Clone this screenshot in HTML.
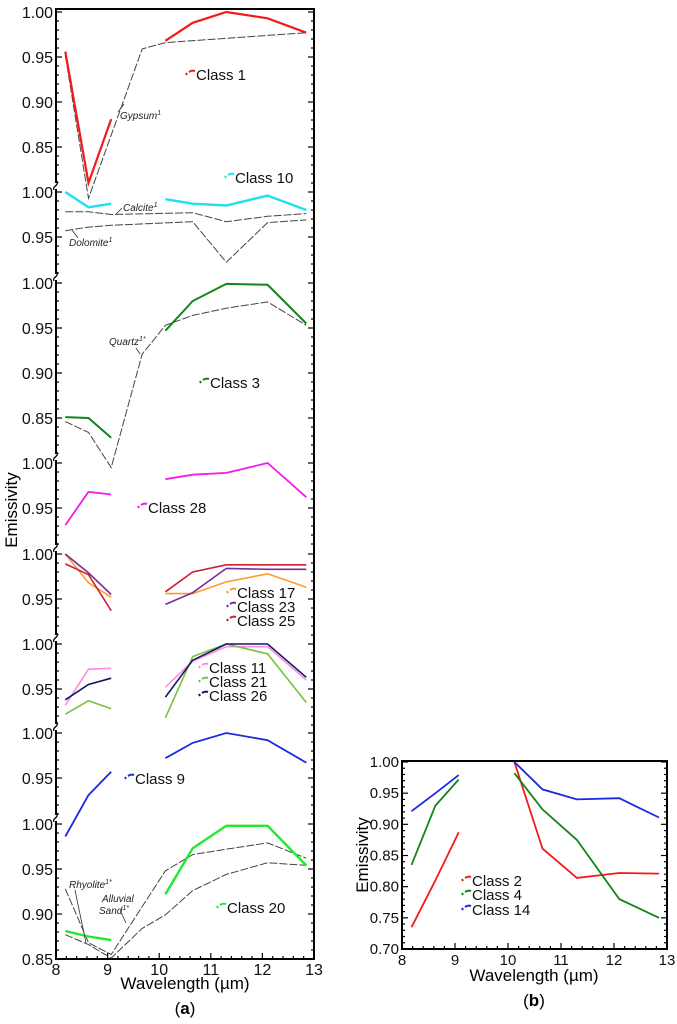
<!DOCTYPE html>
<html><head><meta charset="utf-8">
<style>
html,body{margin:0;padding:0;background:#fff;}
svg{display:block;font-family:"Liberation Sans",sans-serif;}
.tl{font-size:16px;fill:#111;}
.tlb{font-size:15px;fill:#111;}
.lg{font-size:15px;fill:#111;}
.mn{font-size:10px;font-style:italic;fill:#222;}
</style></head>
<body>
<svg id="chart" width="677" height="1024" viewBox="0 0 677 1024" xmlns="http://www.w3.org/2000/svg">
<g id="pa"></g>
<g id="pb"></g>
</svg>
<script>
const wl = [8.18, 8.63, 9.07, 10.12, 10.65, 11.3, 12.1, 12.85];
const xTicks = [8, 9, 10, 11, 12, 13];
const subTop = [12, 192, 283, 463, 554, 644, 733, 824];
const subTickLabels = [["1.00","0.95","0.90","0.85"],["1.00","0.95"],["1.00","0.95","0.90","0.85"],["1.00","0.95"],["1.00","0.95"],["1.00","0.95"],["1.00","0.95"],["1.00","0.95","0.90","0.85"]];
const subTickValues = [[1,0.95,0.9,0.85],[1,0.95],[1,0.95,0.9,0.85],[1,0.95],[1,0.95],[1,0.95],[1,0.95],[1,0.95,0.9,0.85]];
const class1 = [0.956, 0.81, 0.881, 0.968, 0.988, 1.0, 0.993, 0.977];
const class10 = [1.0, 0.983, 0.987, 0.992, 0.987, 0.985, 0.996, 0.98];
const class3 = [0.851, 0.85, 0.828, 0.947, 0.98, 0.999, 0.998, 0.955];
const class28 = [0.931, 0.968, 0.965, 0.982, 0.987, 0.989, 1.0, 0.962];
const class17 = [1.0, 0.968, 0.952, 0.956, 0.956, 0.969, 0.978, 0.963];
const class23 = [1.0, 0.979, 0.955, 0.944, 0.957, 0.984, 0.983, 0.983];
const class25 = [0.989, 0.977, 0.937, 0.958, 0.98, 0.988, 0.988, 0.988];
const class11 = [0.932, 0.972, 0.973, 0.952, 0.981, 0.997, 0.997, 0.96];
const class21 = [0.922, 0.937, 0.928, 0.918, 0.986, 1.0, 0.989, 0.935];
const class26 = [0.938, 0.955, 0.962, 0.941, 0.982, 1.0, 1.0, 0.963];
const class9 = [0.885, 0.931, 0.957, 0.972, 0.989, 1.0, 0.992, 0.967];
const class20 = [0.881, 0.875, 0.871, 0.922, 0.973, 0.998, 0.998, 0.954];
const gypsumX = [8.18, 8.63, 9.67, 10.12, 12.85];
const gypsumY = [0.952, 0.793, 0.959, 0.966, 0.977];
const calciteX = [8.18, 8.63, 9.07, 10.65, 11.3, 12.1, 12.85];
const calciteY = [0.978, 0.978, 0.975, 0.977, 0.967, 0.973, 0.976];
const dolomiteX = [8.18, 8.63, 9.07, 10.65, 11.3, 12.1, 12.85];
const dolomiteY = [0.957, 0.961, 0.963, 0.967, 0.922, 0.966, 0.969];
const quartzX = [8.18, 8.63, 9.07, 9.67, 10.12, 10.65, 11.3, 12.1, 12.85];
const quartzY = [0.846, 0.834, 0.795, 0.921, 0.953, 0.964, 0.972, 0.979, 0.953];
const rhyoliteX = [8.18, 8.63, 9.07, 10.12, 10.65, 11.3, 12.1, 12.85];
const rhyoliteY = [0.928, 0.868, 0.855, 0.948, 0.966, 0.972, 0.979, 0.962];
const sandX = [8.18, 8.63, 9.07, 9.67, 10.12, 10.65, 11.3, 12.1, 12.85];
const sandY = [0.877, 0.866, 0.851, 0.884, 0.899, 0.926, 0.944, 0.957, 0.954];
const bTicks = [1.0, 0.95, 0.9, 0.85, 0.8, 0.75, 0.7];
const bTickLabels = ["1.00","0.95","0.90","0.85","0.80","0.75","0.70"];
const class2 = [0.735, 0.81, 0.887, 1.0, 0.861, 0.814, 0.822, 0.821];
const class4 = [0.835, 0.93, 0.972, 0.982, 0.924, 0.875, 0.78, 0.75];
const class14 = [0.921, 0.95, 0.979, 1.0, 0.956, 0.94, 0.942, 0.911];

const NS = "http://www.w3.org/2000/svg";
function mk(tag, attrs, parent){const e=document.createElementNS(NS,tag);for(const k in attrs)e.setAttribute(k,attrs[k]);parent.appendChild(e);return e;}
const pa=document.getElementById('pa'), pb=document.getElementById('pb');

const aL=56,aR=314,aT=9,aB=959;
const ax = w => aL + (w-8)*(aR-aL)/5;
const ay = (p,v) => subTop[p] + (1-v)*900;
const bL=402,bR=667,bT=761,bB=949;
const bx = w => bL + (w-8)*(bR-bL)/5;
const by = v => bT + 1 + (1-v)*(bB-bT-1)/0.3;

function pts(xs, ys, fx, fy){return xs.map((x,i)=>fx(x).toFixed(1)+','+fy(ys[i]).toFixed(1)).join(' ');}

let e=mk('rect',{x:aL,y:aT,width:aR-aL,height:aB-aT,fill:'none',stroke:'#000','stroke-width':2},pa);


for(let p=0;p<subTop.length;p++){
  const bot = p<subTop.length-1 ? subTop[p+1] : aB;
  for(let y=subTop[p]; y<=bot-3; y+=9){
    const major = Math.round((y-subTop[p])/9)%5===0;
    const l=major?6:3;
    mk('line',{x1:aL,y1:y,x2:aL+l,y2:y,stroke:'#000','stroke-width':1.2},pa);
    mk('line',{x1:aR,y1:y,x2:aR-l,y2:y,stroke:'#000','stroke-width':1.2},pa);
  }
  subTickValues[p].forEach((v,i)=>{
    const t=mk('text',{x:aL-3,y:ay(p,v)+6,'text-anchor':'end',class:'tl'},pa);
    t.textContent=subTickLabels[p][i];
    
    
  });
  if(p>0){
    const y=subTop[p];
    mk('rect',{x:aL-3,y:y-9,width:6,height:6,fill:'#fff'},pa);
    const br=mk('path',{d:`M${aL-2},${y-2} C${aL-4},${y-6} ${aL+3},${y-6} ${aL+1},${y-11}`,fill:'none',stroke:'#000','stroke-width':1.3},pa);
    
    
  }
}
for(let w=8; w<=13.001; w+=0.2){
  const major=Math.abs(w-Math.round(w))<0.01;
  mk('line',{x1:ax(w),y1:aB,x2:ax(w),y2:aB-(major?6:3),stroke:'#000','stroke-width':1.2},pa);
}
xTicks.forEach(w=>{const t=mk('text',{x:ax(w),y:aB+16,'text-anchor':'middle',class:'tl'},pa);t.textContent=w;

});
e=mk('text',{x:185,y:989,'text-anchor':'middle',style:'font-size:17px'},pa);e.textContent='Wavelength (µm)';


e=mk('text',{x:185,y:1014,'text-anchor':'middle',style:'font-size:17px'},pa);e.innerHTML='(<tspan font-weight="bold">a</tspan>)';


e=mk('text',{x:17,y:510,'text-anchor':'middle',transform:'rotate(-90 17 510)',style:'font-size:17px'},pa);e.textContent='Emissivity';



const minerals=[['gypsum',gypsumX,gypsumY,0],['calcite',calciteX,calciteY,1],['dolomite',dolomiteX,dolomiteY,1],['quartz',quartzX,quartzY,2],['rhyolite',rhyoliteX,rhyoliteY,7],['alluvial-sand',sandX,sandY,7]];
minerals.forEach(m=>{
  const l=mk('polyline',{points:pts(m[1],m[2],ax,v=>ay(m[3],v)),fill:'none',stroke:'#444','stroke-width':1,'stroke-dasharray':'8,2'},pa);
  
  
});
const classesA=[['class-1',class1,0,'#f21a1a',2.2],['class-10',class10,1,'#1fe0ec',2.4],['class-3',class3,2,'#12851a',2],['class-28',class28,3,'#ef1ee8',1.8],
['class-17',class17,4,'#ff9a28',1.6],['class-23',class23,4,'#7a2a9c',1.6],['class-25',class25,4,'#cc2030',1.6],
['class-11',class11,5,'#ff8ae6',1.6],['class-21',class21,5,'#78c040',1.6],['class-26',class26,5,'#101860',1.6],
['class-9',class9,6,'#1a2ae0',1.8],['class-20',class20,7,'#22e830',2.4]];
function drawClass(parent,name,vals,fy,col,w,fx){
  [[0,3],[3,8]].forEach(r=>{
    const l=mk('polyline',{points:pts(wl.slice(r[0],r[1]),vals.slice(r[0],r[1]),fx,fy),fill:'none',stroke:col,'stroke-width':w},parent);
    
    
  });
}
classesA.forEach(c=>drawClass(pa,c[0],c[1],v=>ay(c[2],v),c[3],c[4],ax));

function legend(parent,x,y,col,label){
  const g=mk('g',{},parent);
  
  
  mk('path',{d:`M${x-12},${y-2} l1,2 M${x-9},${y-3} q3,-2 6,-1`,fill:'none',stroke:col,'stroke-width':2},g);
  const t=mk('text',{x:x-2,y:y+5,class:'lg'},g);t.textContent=label;
}
legend(pa,198,75,'#f21a1a','Class 1');
legend(pa,237,178,'#1fe0ec','Class 10');
legend(pa,212,383,'#12851a','Class 3');
legend(pa,150,508,'#ef1ee8','Class 28');
legend(pa,239,593,'#ff9a28','Class 17');
legend(pa,239,607,'#7a2a9c','Class 23');
legend(pa,239,621,'#cc2030','Class 25');
legend(pa,211,668,'#ff8ae6','Class 11');
legend(pa,211,682,'#78c040','Class 21');
legend(pa,211,696,'#101860','Class 26');
legend(pa,137,779,'#1a2ae0','Class 9');
legend(pa,229,908,'#22e830','Class 20');

function mlabel(parent,x,y,txt,lx1,ly1,lx2,ly2,name){
  mk('line',{x1:lx1,y1:ly1,x2:lx2,y2:ly2,stroke:'#333','stroke-width':0.8},parent);
  const t=mk('text',{x:x,y:y,class:'mn'},parent);t.innerHTML=txt;
  
  
}
mlabel(pa,120,119,'Gypsum<tspan font-size="7" dy="-4">1</tspan>',118,112,124,104,'gypsum-label');
mlabel(pa,123,211,'Calcite<tspan font-size="7" dy="-4">1</tspan>',122,208,116,214,'calcite-label');
mlabel(pa,69,246,'Dolomite<tspan font-size="7" dy="-4">1</tspan>',78,238,72,230,'dolomite-label');
mlabel(pa,109,345,'Quartz<tspan font-size="7" dy="-4">1*</tspan>',136,348,140,354,'quartz-label');
mlabel(pa,69,888,'Rhyolite<tspan font-size="7" dy="-4">1*</tspan>',75,890,86,943,'rhyolite-label');
mlabel(pa,102,902,'Alluvial',0,0,0,0,'alluvial-label');
mlabel(pa,99,914,'Sand<tspan font-size="7" dy="-4">1*</tspan>',120,910,126,923,'sand-label');

e=mk('rect',{x:bL,y:bT,width:bR-bL,height:bB-bT,fill:'none',stroke:'#000','stroke-width':2},pb);


for(let v=1.0; v>=0.6999; v-=0.01){
  const y=by(v); const major=Math.round(v*100)%5===0; const l=major?6:3;
  mk('line',{x1:bL,y1:y,x2:bL+l,y2:y,stroke:'#000','stroke-width':1.2},pb);
  mk('line',{x1:bR,y1:y,x2:bR-l,y2:y,stroke:'#000','stroke-width':1.2},pb);
}
bTicks.forEach((v,i)=>{const t=mk('text',{x:bL-3,y:by(v)+5,'text-anchor':'end',class:'tlb'},pb);t.textContent=bTickLabels[i];

});
for(let w=8; w<=13.001; w+=0.2){
  const major=Math.abs(w-Math.round(w))<0.01;
  mk('line',{x1:bx(w),y1:bB,x2:bx(w),y2:bB-(major?6:3),stroke:'#000','stroke-width':1.2},pb);
}
xTicks.forEach(w=>{const t=mk('text',{x:bx(w),y:bB+16,'text-anchor':'middle',class:'tlb'},pb);t.textContent=w;

});
e=mk('text',{x:534,y:981,'text-anchor':'middle',style:'font-size:17px'},pb);e.textContent='Wavelength (µm)';


e=mk('text',{x:534,y:1006,'text-anchor':'middle',style:'font-size:17px'},pb);e.innerHTML='(<tspan font-weight="bold">b</tspan>)';


e=mk('text',{x:368,y:855,'text-anchor':'middle',transform:'rotate(-90 368 855)',style:'font-size:17px'},pb);e.textContent='Emissivity';


drawClass(pb,'class-2',class2,by,'#f21a1a',1.8,bx);
drawClass(pb,'class-4',class4,by,'#12851a',1.8,bx);
drawClass(pb,'class-14',class14,by,'#1a2ae0',1.8,bx);
legend(pb,474,881,'#f21a1a','Class 2');
legend(pb,474,895,'#12851a','Class 4');
legend(pb,474,910,'#1a2ae0','Class 14');
</script>
</body></html>
